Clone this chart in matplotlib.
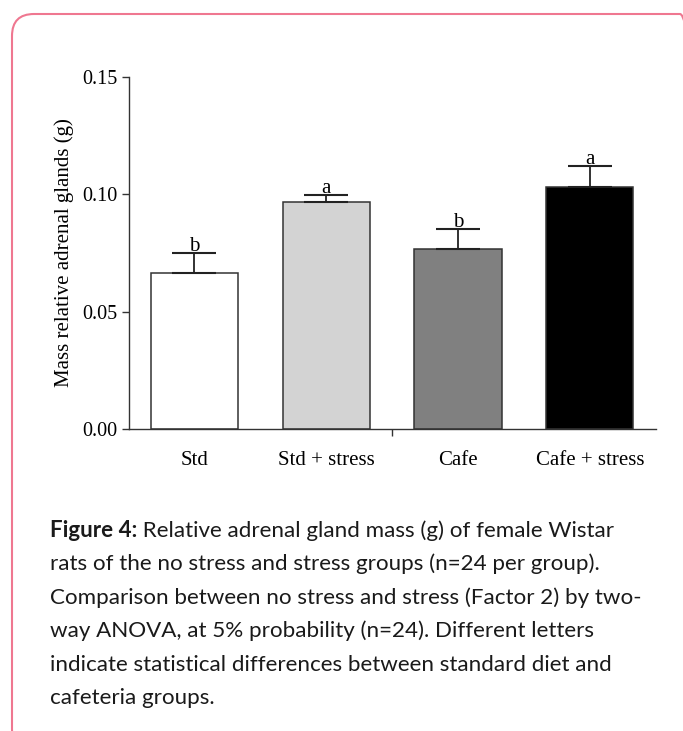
import numpy as np
import matplotlib
matplotlib.use('Agg')
import matplotlib.pyplot as plt
from matplotlib.patches import FancyBboxPatch
from matplotlib.transforms import IdentityTransform

groups = ['Std', 'Std + stress', 'Cafe', 'Cafe + stress']
means = [0.0666, 0.0966, 0.0766, 0.1033]
errs = [0.0086, 0.0033, 0.0085, 0.0087]
letters = ['b', 'a', 'b', 'a']
colors = ['white', '#d3d3d3', '#808080', 'black']

caption_bold = 'Figure 4:'
caption_lines = [
    ' Relative adrenal gland mass (g) of female Wistar',
    'rats of the no stress and stress groups (n=24 per group).',
    'Comparison between no stress and stress (Factor 2) by two-',
    'way ANOVA, at 5% probability (n=24). Different letters',
    'indicate statistical differences between standard diet and',
    'cafeteria groups.',
]

serif = ['Liberation Serif', 'DejaVu Serif']
sans = ['Lato', 'DejaVu Sans']
cap_size = 16.1

fig = plt.figure(figsize=(6.83, 7.31), dpi=100)
ax = fig.add_axes([128.5 / 683, 1 - 429 / 731, (655.7 - 128.5) / 683, (429 - 77) / 731])

x = np.arange(len(groups))
ax.bar(x, means, width=0.663, color=colors, edgecolor='#333333', linewidth=1.1, zorder=2)
ax.errorbar(x, means, yerr=[np.zeros(len(errs)), errs], fmt='none', ecolor='#222222',
            elinewidth=1.3, capsize=15.8, capthick=1.5, zorder=3)
for xi, m, e, l in zip(x, means, errs, letters):
    ax.text(xi, m + e + 0.0008, l, ha='center', va='baseline', fontsize=15, family=serif)

ax.set_xlim(-0.5, 3.5)
ax.set_ylim(0, 0.15)
ax.set_yticks([0, 0.05, 0.10, 0.15])
ax.set_yticklabels(['0.00', '0.05', '0.10', '0.15'], family=serif, fontsize=14.5)
ax.set_xticks(x)
ax.set_xticklabels(groups, family=serif, fontsize=15)
ax.set_xticks([1.5], minor=True)
ax.tick_params(axis='x', which='major', length=0, pad=16)
ax.tick_params(axis='x', which='minor', length=5, width=1, color='#333333', direction='out')
ax.tick_params(axis='y', length=5, width=1, color='#333333', pad=3)
for s in ['top', 'right']:
    ax.spines[s].set_visible(False)
for s in ['left', 'bottom']:
    ax.spines[s].set_color('#333333')
    ax.spines[s].set_linewidth(1.0)
ax.set_ylabel('Mass relative adrenal glands (g)', family=serif, fontsize=15, labelpad=6)

# pink rounded frame
frame = FancyBboxPatch((12, -20), 690, 731 - 14 + 20, boxstyle='round,pad=0,rounding_size=22',
                       transform=IdentityTransform(), facecolor='none', edgecolor='#ef7790',
                       linewidth=1.5)
fig.add_artist(frame)

# caption
y0 = 1 - 537 / 731
dy = 33.4 / 731
t = fig.text(50 / 683, y0, caption_bold, family=sans, fontsize=cap_size, fontweight='bold',
             va='baseline', color='#1a1a1a')
ax.annotate(caption_lines[0], xy=(1, 0), xycoords=t, va='bottom', ha='left',
            family=sans, fontsize=cap_size, color='#1a1a1a', annotation_clip=False)
for i, line in enumerate(caption_lines[1:], start=1):
    fig.text(50 / 683, y0 - i * dy, line, family=sans, fontsize=cap_size, va='baseline',
             color='#1a1a1a')

fig.savefig('out.png', dpi=100)
